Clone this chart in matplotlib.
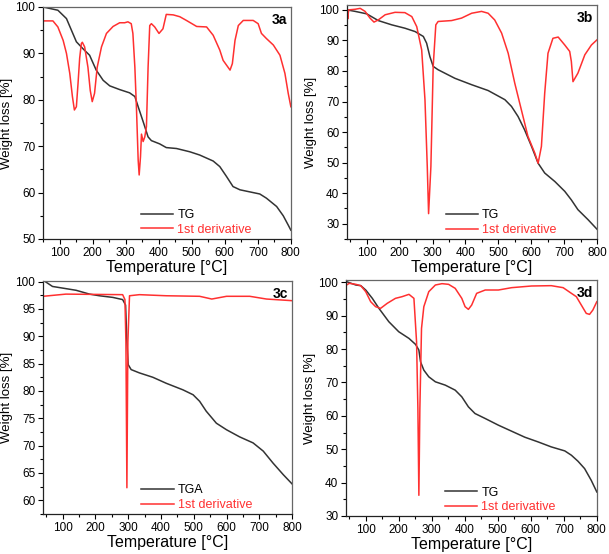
import numpy as np
import matplotlib
matplotlib.use('Agg')
import matplotlib.pyplot as plt
from matplotlib.ticker import MultipleLocator

plt.rcParams['font.family'] = ['Liberation Sans', 'DejaVu Sans']

# ---- panel 3a ----
a_tg_t = [50, 95, 121, 136, 151, 171, 191, 211, 232, 252, 282, 312, 328, 338, 353, 368,
          378, 403, 423, 454, 494, 524, 565, 585, 605, 625, 646, 686, 706, 726, 757, 777, 792, 800]
a_tg_v = [100, 99.3, 97.5, 95, 92.5, 91, 89.6, 86.4, 84.2, 83, 82.2, 81.5, 80.7, 78.5, 75.3, 72,
          71.2, 70.5, 69.7, 69.5, 68.8, 68.1, 66.8, 65.6, 63.5, 61.3, 60.6, 60, 59.7, 58.8, 57, 55, 53, 51.9]
a_dr_t = [50, 80, 95, 111, 121, 131, 139, 145, 151, 156, 161, 166, 169, 176, 186, 193, 199, 206,
          214, 227, 242, 262, 282, 297, 307, 317, 322, 328, 333, 338, 341, 345, 348, 353, 358, 363,
          368, 373, 378, 388, 401, 413, 423, 444, 464, 484, 515, 545, 565, 585, 595, 605, 616, 623,
          631, 641, 656, 686, 701, 711, 726, 747, 767, 782, 792, 800]
a_dr_v = [97, 97, 95.7, 92.8, 90, 85.7, 80.7, 77.8, 78.5, 83.5, 89, 92.1, 92.4, 91.4, 87, 82,
          79.6, 81.4, 87, 91.4, 94.3, 95.8, 96.6, 96.6, 96.8, 96.4, 94.3, 87, 77.8, 67, 63.8,
          67.7, 72.6, 71, 72, 74.2, 87, 96, 96.4, 95.7, 94.3, 95.3, 98.4, 98.3, 97.9, 97.1,
          95.8, 95.7, 93.9, 90.7, 88.5, 87.5, 86.4, 87.8, 92.8, 96, 97.1, 97.1, 96.4, 94.3,
          93.2, 91.8, 89.6, 85.7, 81.4, 78.5]

# ---- panel 3b ----
b_tg_t = [40, 65, 100, 135, 176, 216, 247, 272, 282, 292, 302, 317, 368, 419, 469, 520, 540,
          560, 580, 601, 621, 641, 672, 702, 722, 742, 773, 800]
b_tg_v = [100, 99.5, 98.7, 96.5, 95.1, 94, 92.9, 91.3, 89.1, 84.7, 81.5, 80.4, 77.6, 75.5,
          73.6, 70.6, 68.4, 65.1, 60.7, 55.3, 49.8, 46.6, 43.8, 40.6, 37.8, 34.6, 31.3, 28.2]
b_dr_t = [40, 42, 45, 65, 80, 95, 110, 122, 135, 156, 186, 216, 237, 252, 267, 277, 284, 288,
          295, 302, 310, 317, 358, 388, 419, 449, 469, 489, 510, 530, 550, 570, 590, 611, 621,
          631, 641, 651, 666, 682, 702, 717, 722, 727, 742, 763, 783, 800]
b_dr_v = [101.5, 97, 100, 100.2, 100.5, 99.5, 97.3, 96, 96.7, 98.4, 99.2, 99.1, 97.8, 94.5,
          86.9, 70.6, 48.7, 33.3, 48.7, 81.5, 95.1, 96.2, 96.5, 97.3, 98.9, 99.5, 98.9, 96.7,
          92.4, 85.8, 76, 67.3, 58.6, 53.1, 49.8, 55.3, 72.7, 85.8, 90.7, 91.1, 88.5, 86.4,
          83.1, 76.5, 79.3, 85.3, 88.5, 90.2]

# ---- panel 3c ----
c_tg_t = [44, 69, 100, 141, 182, 212, 253, 283, 292, 296, 300, 309, 334, 375, 416, 467, 498,
          518, 538, 569, 600, 640, 681, 712, 742, 773, 800]
c_tg_v = [100.1, 99.1, 98.8, 98.4, 97.7, 97.4, 97.1, 96.7, 95.7, 89, 84.8, 83.9, 83.3, 82.5,
          81.4, 80.2, 79.3, 78.1, 76.3, 74.1, 72.9, 71.6, 70.5, 69, 66.8, 64.7, 63]
c_dr_t = [40, 110, 283, 290, 293, 296, 299, 304, 334, 416, 518, 555, 600, 671, 722, 800]
c_dr_v = [97.3, 97.7, 97.6, 96.7, 89, 62.3, 89, 97.4, 97.6, 97.4, 97.3, 96.8, 97.3, 97.3,
          96.8, 96.5]

# ---- panel 3d ----
d_tg_t = [42, 70, 85, 100, 120, 140, 170, 200, 231, 251, 261, 266, 276, 291, 311, 341, 371,
          391, 411, 431, 462, 502, 542, 582, 622, 662, 703, 723, 743, 763, 783, 800]
d_tg_v = [100.2, 99.2, 99, 97.7, 95.2, 92.2, 88.2, 85.2, 83.2, 81.4, 79.7, 76.2, 73.7, 71.7,
          70.2, 69.2, 67.7, 65.7, 62.7, 60.7, 59.2, 57.2, 55.4, 53.6, 52.2, 50.7, 49.5, 48.2,
          46.4, 44.2, 40.7, 37.2]
d_dr_t = [42, 50, 70, 85, 100, 115, 130, 145, 165, 190, 210, 231, 246, 254, 258, 261, 264,
          269, 276, 291, 311, 331, 351, 371, 391, 401, 411, 421, 436, 462, 502, 542, 602, 662,
          698, 723, 738, 753, 768, 778, 788, 800]
d_dr_v = [99.2, 99.7, 99.4, 99, 97.2, 94.2, 92.7, 92.2, 93.7, 95.2, 95.7, 96.4, 95.2, 82.2,
          62.2, 36.2, 62.2, 86.2, 92.7, 97.2, 99.2, 99.6, 99.4, 98.2, 95.2, 92.7, 91.9, 93.2,
          96.7, 97.7, 97.7, 98.4, 98.9, 99, 98.4, 96.7, 95.7, 93.2, 90.7, 90.4, 91.7, 94.2]

BLACK = '#333333'
RED = '#ff3030'

fig = plt.figure(figsize=(6.09, 5.54), dpi=100)


def panel(rect, tg_t, tg_v, dr_t, dr_v, xlim, ylim, ymaj, tag, tg_name):
    ax = fig.add_axes(rect)
    ax.plot(tg_t, tg_v, color=BLACK, lw=1.1, label=tg_name)
    ax.plot(dr_t, dr_v, color=RED, lw=1.1, label='1st derivative')
    ax.set_xlim(*xlim)
    ax.set_ylim(*ylim)
    ax.xaxis.set_major_locator(MultipleLocator(100))
    ax.xaxis.set_minor_locator(MultipleLocator(50))
    ax.yaxis.set_major_locator(MultipleLocator(ymaj))
    ax.yaxis.set_minor_locator(MultipleLocator(ymaj / 2))
    ax.tick_params(which='both', direction='out', top=False, right=False,
                   labelsize=8.5, width=0.8, pad=2)
    ax.tick_params(which='major', length=3.5)
    ax.tick_params(which='minor', length=2)
    for side in ['left', 'bottom']:
        ax.spines[side].set_linewidth(0.9)
        ax.spines[side].set_color('#222222')
    for side in ['top', 'right']:
        ax.spines[side].set_linewidth(0.9)
        ax.spines[side].set_color('#666666')
    ax.set_xlabel('Temperature [°C]', fontsize=11.5, labelpad=1)
    ax.set_ylabel('Weight loss [%]', fontsize=9.5, labelpad=2)
    ax.text(0.985, 0.975, tag, transform=ax.transAxes, ha='right', va='top',
            fontsize=10, fontweight='bold')
    leg = ax.legend(loc='lower left', bbox_to_anchor=(0.35, -0.035), frameon=False,
                    fontsize=9, handlelength=2.6, handletextpad=0.3,
                    labelspacing=0.2)
    for txt, col in zip(leg.get_texts(), ['black', RED]):
        txt.set_color(col)
    return ax


panel([0.0706, 0.5686, 0.407, 0.4188], a_tg_t, a_tg_v, a_dr_t, a_dr_v,
      (50, 800), (50, 100), 10, '3a', 'TG')
panel([0.5698, 0.5686, 0.4105, 0.4224], b_tg_t, b_tg_v, b_dr_t, b_dr_v,
      (40, 800), (25, 101.6), 10, '3b', 'TG')
panel([0.0706, 0.0722, 0.409, 0.4206], c_tg_t, c_tg_v, c_dr_t, c_dr_v,
      (40, 800), (57.5, 100.1), 5, '3c', 'TGA')
panel([0.568, 0.0686, 0.412, 0.426], d_tg_t, d_tg_v, d_dr_t, d_dr_v,
      (40, 800), (30, 100.7), 10, '3d', 'TG')

fig.savefig('out.png', dpi=100)
